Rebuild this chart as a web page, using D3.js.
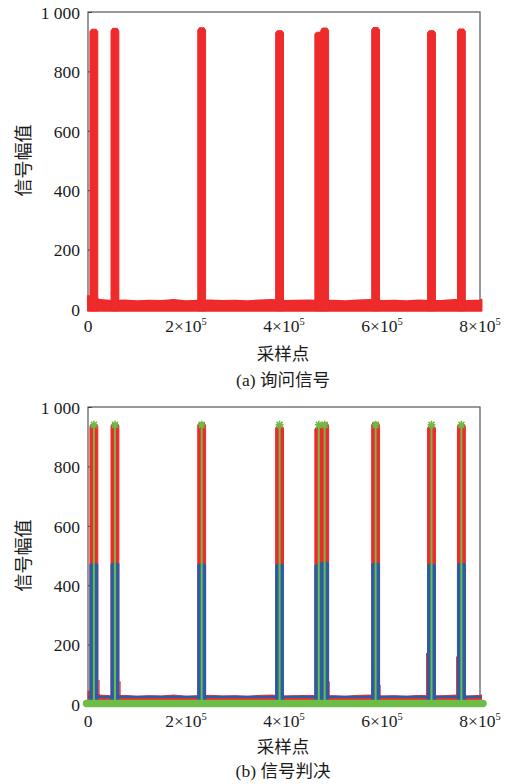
<!DOCTYPE html>
<html>
<head>
<meta charset="utf-8">
<script src="https://cdn.jsdelivr.net/npm/d3@7"></script>
<style>
  body { margin: 0; background: #fff; }
  text { fill: #1a1a1a; }
  .serif { font-family: "Liberation Serif", "Times New Roman", "DejaVu Serif", serif; }
  .cjk { font-family: "Liberation Serif", "Noto Sans CJK SC", serif; }
</style>
</head>
<body>
<svg id="chart" width="508" height="784"></svg>
<script>
// pulse centres (sample index)
var pulseCenters   = [12000, 55000, 232000, 391000, 471000, 483000, 587000, 701000, 762000];
var pulsePeaks     = [942, 945, 947, 937, 932, 946, 948, 937, 943];
var pulseShoulders = [934, 936, 939, 930, 925, 938, 940, 930, 935];
var pulseHalfWidth = 8000;
// decision (blue) pulse heights
var blueTops = [474, 476, 473, 472, 471, 479, 476, 472, 475];
var blueBase = 24;
// green decision markers
var markerValue = 940;
// baseline noise envelope
var noiseX   = [0, 25000, 50000, 75000, 100000, 125000, 150000, 175000, 200000, 225000, 250000,
                275000, 300000, 325000, 350000, 375000, 400000, 425000, 450000, 475000, 500000,
                525000, 550000, 575000, 600000, 625000, 650000, 675000, 700000, 725000, 750000,
                775000, 800000, 803000];
var noiseTop = [44, 30, 27, 29, 26, 28, 27, 30, 26, 28, 29, 27, 28, 26, 29, 30, 27, 28, 29, 27, 28,
                26, 29, 30, 27, 28, 26, 29, 27, 28, 30, 27, 29, 31];
var noiseLow = -6;
// small red spikes next to the pulses in panel (b)
var spikeX = [22400, 65300, 492000, 595900, 691200, 752500];
var spikeY = [81, 77, 76, 64, 172, 160];

var yTicks = [0, 200, 400, 600, 800, 1000];
var xTicks = [0, 200000, 400000, 600000, 800000];

var RED = "#ee2a2a", BLUE = "#2b5ca8", GREEN = "#6cbd45";
var left = 88, right = 480;

var svg = d3.select("#chart");
var x = d3.scaleLinear().domain([0, 800000]).range([left, right]);

var panels = [
  { top: 12,  bottom: 309, xlab: 51, cap: 77, caption: "(a) 询问信号", decision: false },
  { top: 407, bottom: 704, xlab: 48.5, cap: 73, caption: "(b) 信号判决", decision: true }
];

function pulseShape(c, peak, shoulder, low, hw) {
  return [[c - hw, low], [c - hw, shoulder], [c - hw * 0.6, peak],
          [c + hw * 0.6, peak], [c + hw, shoulder], [c + hw, low]];
}

panels.forEach(function(p) {
  var y = d3.scaleLinear().domain([0, 1000]).range([p.bottom, p.top]);
  var g = svg.append("g");
  var line = d3.line().x(function(d) { return x(d[0]); }).y(function(d) { return y(d[1]); });

  // frame (under the data)
  g.append("rect")
    .attr("x", left).attr("y", p.top)
    .attr("width", right - left).attr("height", p.bottom - p.top)
    .attr("fill", "none").attr("stroke", "#555").attr("stroke-width", 1.2);

  // y axis, ticks pointing inward
  var yAxis = d3.axisLeft(y).tickValues(yTicks).tickSizeInner(-4).tickSizeOuter(0).tickPadding(8)
    .tickFormat(function(d) { return d == 1000 ? "1 000" : d; });
  var ya = g.append("g").attr("transform", "translate(" + left + ",0)").call(yAxis);
  ya.attr("font-family", null);
  ya.select(".domain").remove();
  ya.selectAll("line").attr("stroke", "#444");
  ya.selectAll("text").attr("class", "serif").attr("font-size", 17.5)
    .attr("dy", "0.36em").style("fill", "#1a1a1a");

  // x axis ticks
  var xAxis = d3.axisBottom(x).tickValues(xTicks).tickSizeInner(-4).tickSizeOuter(0).tickFormat("");
  var xa = g.append("g").attr("transform", "translate(0," + p.bottom + ")").call(xAxis);
  xa.select(".domain").remove();
  xa.selectAll("line").attr("stroke", "#444");

  xTicks.forEach(function(t) {
    var tx = g.append("text")
      .attr("class", "serif")
      .attr("x", x(t)).attr("y", p.bottom + 22.5)
      .attr("text-anchor", "middle")
      .attr("font-size", 17.5);
    if (t === 0) {
      tx.text("0");
    } else {
      tx.append("tspan").text((t / 100000) + "×10");
      tx.append("tspan").attr("font-size", 10.5).attr("dy", -6.5).text("5");
    }
  });

  // labels
  g.append("text")
    .attr("class", "cjk")
    .attr("transform", "translate(30," + ((p.top + p.bottom) / 2) + ") rotate(-90)")
    .attr("text-anchor", "middle")
    .attr("font-size", 18)
    .text("信号幅值");
  g.append("text")
    .attr("class", "cjk")
    .attr("x", (left + right) / 2 - 1).attr("y", p.bottom + p.xlab)
    .attr("text-anchor", "middle")
    .attr("font-size", 17.5)
    .text("采样点");
  g.append("text")
    .attr("class", "cjk")
    .attr("x", (left + right) / 2 - 1).attr("y", p.bottom + p.cap)
    .attr("text-anchor", "middle")
    .attr("font-size", 17.5)
    .text(p.caption);

  // red signal: baseline band + pulses
  var low = p.decision ? 0 : noiseLow;
  var base = noiseX.map(function(v, i) { return [v, noiseTop[i]]; });
  var area = d3.area()
    .x(function(d) { return x(d[0]); })
    .y0(y(low))
    .y1(function(d) { return y(d[1]); });
  g.append("path").datum(base).attr("d", area)
    .attr("fill", RED).attr("stroke", RED)
    .attr("stroke-width", p.decision ? 1 : 2).attr("stroke-linejoin", "round");

  pulseCenters.forEach(function(c, i) {
    g.append("path")
      .attr("d", line(pulseShape(c, pulsePeaks[i], pulseShoulders[i], low, pulseHalfWidth)) + "Z")
      .attr("fill", RED).attr("stroke", RED).attr("stroke-width", 1)
      .attr("stroke-linejoin", "miter");
  });

  if (!p.decision) return;

  // small spikes
  spikeX.forEach(function(s, i) {
    g.append("path").attr("d", line([[s, 20], [s, spikeY[i]]]))
      .attr("stroke", RED).attr("stroke-width", 1.3);
  });

  // blue decision signal
  g.append("path").attr("d", line([[0, blueBase], [803000, blueBase]]))
    .attr("stroke", BLUE).attr("stroke-width", 2.2).attr("fill", "none");
  pulseCenters.forEach(function(c, i) {
    g.append("path")
      .attr("d", line([[c - pulseHalfWidth, 0], [c - pulseHalfWidth, blueTops[i] - 4],
                       [c, blueTops[i]], [c + pulseHalfWidth, blueTops[i] - 3],
                       [c + pulseHalfWidth, 0]]) + "Z")
      .attr("fill", BLUE).attr("stroke", BLUE).attr("stroke-width", 1);
  });

  // green decision line, pulse markers
  g.append("path").attr("d", line([[-3000, 2], [806000, 2]]))
    .attr("stroke", GREEN).attr("stroke-width", 7.5).attr("stroke-linecap", "round");
  pulseCenters.forEach(function(c) {
    g.append("path").attr("d", line([[c, 0], [c, markerValue]]))
      .attr("stroke", GREEN).attr("stroke-width", 2);
    var cx = x(c), cy = y(markerValue), r = 4;
    g.append("path")
      .attr("d", "M" + (cx - r) + "," + cy + "H" + (cx + r) +
                 "M" + cx + "," + (cy - r) + "V" + (cy + r) +
                 "M" + (cx - r * 0.75) + "," + (cy - r * 0.75) + "L" + (cx + r * 0.75) + "," + (cy + r * 0.75) +
                 "M" + (cx - r * 0.75) + "," + (cy + r * 0.75) + "L" + (cx + r * 0.75) + "," + (cy - r * 0.75))
      .attr("stroke", GREEN).attr("stroke-width", 1.6).attr("fill", "none");
  });
});
</script>
</body>
</html>
